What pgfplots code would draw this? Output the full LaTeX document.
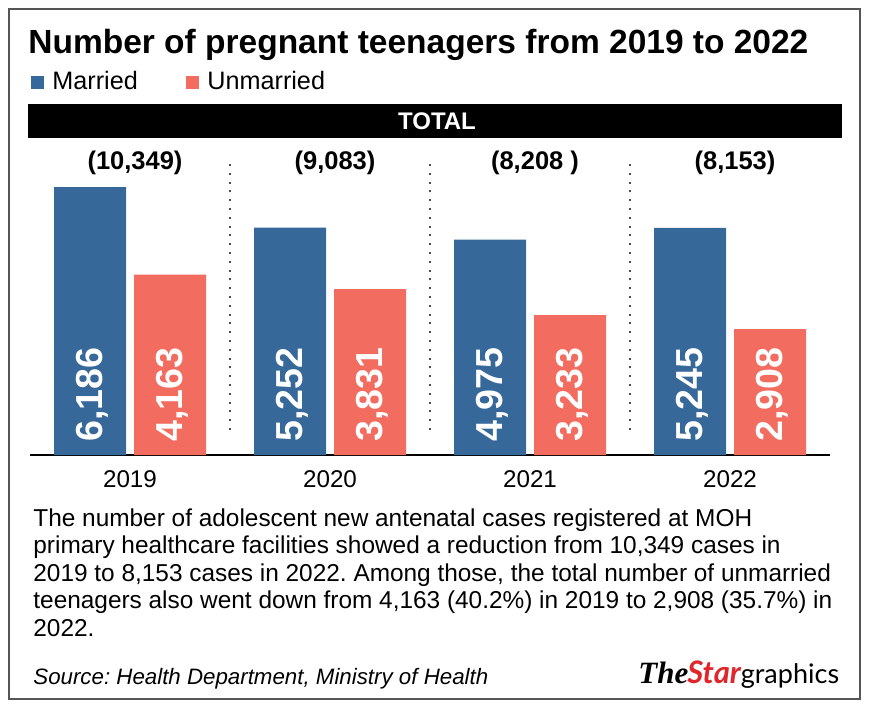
\documentclass[border=0pt]{standalone}
\usepackage{fontspec}
\setmainfont{Liberation Sans}
\newfontfamily\latofont{Lato}
\newfontfamily\serifont{Liberation Serif}
\usepackage{pgfplots}
\pgfplotsset{compat=1.18}
\definecolor{mblue}{HTML}{36689A}
\definecolor{ured}{HTML}{F26D5F}
\definecolor{starred}{HTML}{E0262B}
\definecolor{framec}{HTML}{555555}
\frenchspacing
\begin{document}
\begin{tikzpicture}[x=0.5pt,y=0.5pt]
\path[fill=white] (0,0) rectangle (870,709);
\draw[framec, line width=0.8pt] (9,10) rectangle (860,700);
% title
\node[anchor=base west, inner sep=0pt, font=\fontsize{16.75}{20}\selectfont\bfseries] at (28,656) {Number of pregnant teenagers from 2019 to 2022};
% legend
\fill[mblue] (31,620) rectangle (44,633);
\node[anchor=base west, inner sep=0pt, font=\fontsize{12.6}{15}\selectfont] at (52,620) {Married};
\fill[ured] (186,620) rectangle (199,633);
\node[anchor=base west, inner sep=0pt, font=\fontsize{12.6}{15}\selectfont] at (207,620) {Unmarried};
% black band
\fill[black] (28,571) rectangle (842,605);
\node[anchor=center, inner sep=0pt, text=white, font=\fontsize{12}{14}\selectfont\bfseries] at (437,588) {TOTAL};
\begin{axis}[
  at={(15pt,127pt)}, anchor=south west,
  width=400pt, height=142.5pt, scale only axis,
  xmin=-0.5, xmax=3.5, ymin=0, ymax=6582,
  clip=false,
  axis x line*=bottom, axis y line=none,
  x axis line style={-, line width=1.2pt, black},
  xtick={0,1,2,3},
  xticklabels={2019,2020,2021,2022},
  major tick length=0pt,
  xticklabel style={anchor=base, yshift=-16pt, inner sep=0pt, font=\fontsize{12.1}{14}\selectfont},
  ybar, bar width=36pt,
]
\addplot[fill=mblue, draw=none, bar shift=-20pt] coordinates {(0,6186) (1,5252) (2,4975) (3,5245)};
\addplot[fill=ured, draw=none, bar shift=20pt] coordinates {(0,4163) (1,3831) (2,3233) (3,2908)};
% value labels (from data)
\addplot[draw=none, fill=none, bar shift=-19pt, forget plot, point meta=explicit,
  nodes near coords={\pgfmathprintnumber[1000 sep={,}, assume math mode=true]{\pgfplotspointmeta}},
  every node near coord/.append style={rotate=90, anchor=west, inner sep=0pt, text=white, font=\fontsize{18.8}{20}\selectfont\bfseries}]
  coordinates {(0,300)[6186] (1,300)[5252] (2,300)[4975] (3,300)[5245]};
\addplot[draw=none, fill=none, bar shift=21pt, forget plot, point meta=explicit,
  nodes near coords={\pgfmathprintnumber[1000 sep={,}, assume math mode=true]{\pgfplotspointmeta}},
  every node near coord/.append style={rotate=90, anchor=west, inner sep=0pt, text=white, font=\fontsize{18.8}{20}\selectfont\bfseries}]
  coordinates {(0,300)[4163] (1,300)[3831] (2,300)[3233] (3,300)[2908]};
% separators
\draw[dash pattern=on 1pt off 3.4pt, line width=0.6pt, gray!60!black] (axis cs:0.5,577) -- (axis cs:0.5,6744);
\draw[dash pattern=on 1pt off 3.4pt, line width=0.6pt, gray!60!black] (axis cs:1.5,577) -- (axis cs:1.5,6744);
\draw[dash pattern=on 1pt off 3.4pt, line width=0.6pt, gray!60!black] (axis cs:2.5,577) -- (axis cs:2.5,6744);
% totals
\node[font=\fontsize{12.75}{15}\selectfont\bfseries, xshift=2.5pt] at (axis cs:0,6740) {(10,349)};
\node[font=\fontsize{12.75}{15}\selectfont\bfseries, xshift=2.5pt] at (axis cs:1,6740) {(9,083)};
\node[font=\fontsize{12.75}{15}\selectfont\bfseries, xshift=2.5pt] at (axis cs:2,6740) {(8,208 )};
\node[font=\fontsize{12.75}{15}\selectfont\bfseries, xshift=2.5pt] at (axis cs:3,6740) {(8,153)};
\end{axis}
% paragraph
\begin{scope}[every node/.style={anchor=base west, inner sep=0pt, font=\fontsize{12.2}{14}\selectfont}]
\node at (33,183) {The number of adolescent new antenatal cases registered at MOH};
\node at (33,155.5) {primary healthcare facilities showed a reduction from 10,349 cases in};
\node at (33,128) {2019 to 8,153 cases in 2022. Among those, the total number of unmarried};
\node at (33,100.5) {teenagers also went down from 4,163 (40.2\%) in 2019 to 2,908 (35.7\%) in};
\node at (33,73) {2022.};
\end{scope}
% source
\node[anchor=base west, inner sep=0pt, font=\fontsize{11.15}{13}\selectfont\itshape] at (33,25) {Source: Health Department, Ministry of Health};
% logo
\node[anchor=base west, inner sep=0pt] at (638,26) {{\serifont\bfseries\itshape\fontsize{15.5}{18}\selectfont The}\kern-0.5pt{\latofont\bfseries\itshape\fontsize{15.5}{18}\selectfont\color{starred}Star}{\latofont\fontsize{13.5}{16}\selectfont graphics}};
\end{tikzpicture}
\end{document}
